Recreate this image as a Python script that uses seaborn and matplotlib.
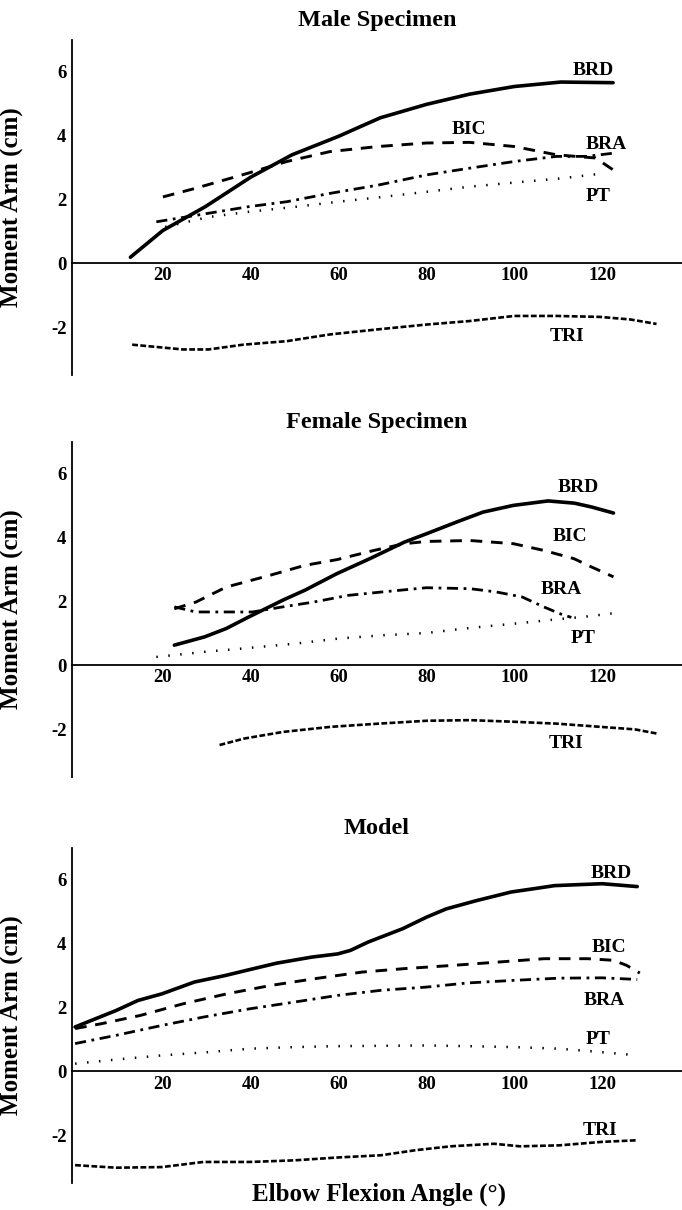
import pandas as pd
import matplotlib.pyplot as plt
import seaborn as sns

sns.set_style("white")
plt.rcParams['font.family'] = ['Liberation Serif', 'DejaVu Serif']
plt.rcParams['axes.unicode_minus'] = False
plt.rcParams['text.color'] = 'black'
plt.rcParams['axes.labelcolor'] = 'black'
plt.rcParams['axes.edgecolor'] = 'black'
plt.rcParams['xtick.color'] = 'black'
plt.rcParams['ytick.color'] = 'black'

# -------------------------
# Data (angle in degrees, moment arm in cm)
# -------------------------
# Male specimen
male_brd_x = [12.6, 20, 29.6, 40, 49.4, 60, 69.5, 80, 89.8, 100, 110.6, 122.5]
male_brd_y = [0.19, 1.03, 1.77, 2.7, 3.4, 3.98, 4.56, 4.98, 5.3, 5.54, 5.68, 5.66]
male_bic_x = [20, 27.4, 39.3, 48.2, 58, 69, 80, 89.8, 100, 109.6, 118.5, 122.5]
male_bic_y = [2.08, 2.35, 2.82, 3.19, 3.5, 3.66, 3.77, 3.79, 3.66, 3.4, 3.3, 2.93]
male_bra_x = [18.5, 27.4, 39.3, 48.2, 58, 69, 80, 89.8, 100, 109.6, 116.5, 122.5]
male_bra_y = [1.3, 1.5, 1.77, 1.93, 2.19, 2.45, 2.77, 2.98, 3.19, 3.35, 3.35, 3.45]
male_pt_x = [20.5, 30.4, 39.3, 50.2, 60, 70, 80, 89.8, 100, 110.6, 120.5]
male_pt_y = [1.14, 1.45, 1.61, 1.77, 1.93, 2.08, 2.24, 2.4, 2.53, 2.66, 2.82]
male_tri_x = [13, 24.5, 30.4, 38.3, 48.2, 58, 69, 80, 89.8, 100, 109.6, 119.5, 126.4, 132.4]
male_tri_y = [-2.55, -2.7, -2.7, -2.55, -2.44, -2.23, -2.07, -1.92, -1.81, -1.65, -1.65, -1.68, -1.76, -1.9]

# Female specimen
female_brd_x = [22.6, 29.5, 34.4, 39.5, 47.3, 52.3, 59.6, 67.1, 75, 80, 86.9, 92.9, 99.8, 107.7, 113.7, 117.6, 122.6]
female_brd_y = [0.63, 0.89, 1.15, 1.51, 2.04, 2.35, 2.87, 3.34, 3.86, 4.12, 4.49, 4.8, 5.01, 5.15, 5.08, 4.96, 4.77]
female_bic_x = [22.6, 27.5, 34.4, 44.4, 52.3, 59.6, 68.1, 75, 80, 89.9, 99.8, 106.7, 113.6, 117.6, 122.6]
female_bic_y = [1.77, 1.98, 2.45, 2.82, 3.13, 3.31, 3.6, 3.81, 3.88, 3.91, 3.81, 3.6, 3.34, 3.08, 2.77]
female_bra_x = [22.6, 27.5, 34.4, 40.4, 47.3, 54.3, 62.2, 70.1, 80, 89.9, 95.8, 101.8, 106.7, 110.7, 113]
female_bra_y = [1.83, 1.67, 1.67, 1.67, 1.83, 1.98, 2.19, 2.3, 2.43, 2.4, 2.3, 2.14, 1.83, 1.6, 1.5]
female_pt_x = [18.5, 29.5, 39.4, 50.3, 60.2, 70.1, 80, 89.9, 99.8, 109.7, 116, 122.7]
female_pt_y = [0.26, 0.42, 0.54, 0.68, 0.84, 0.94, 1.01, 1.17, 1.3, 1.44, 1.52, 1.63]
female_tri_x = [32.9, 38.4, 47.3, 58.2, 69.1, 80, 89.9, 99.8, 109.7, 119.6, 127.5, 132.5]
female_tri_y = [-2.5, -2.3, -2.09, -1.93, -1.83, -1.74, -1.72, -1.77, -1.83, -1.93, -2.01, -2.14]

# Model
model_brd_x = [0, 9.4, 14.3, 19.8, 27.2, 34.1, 39.8, 45.9, 53.9, 59.8, 62.7, 66.7, 74.6, 80, 84.5, 91.4, 99.3, 104.3, 109.2, 120, 128]
model_brd_y = [1.39, 1.91, 2.22, 2.43, 2.8, 3.0, 3.19, 3.39, 3.58, 3.68, 3.79, 4.05, 4.47, 4.83, 5.09, 5.35, 5.62, 5.72, 5.82, 5.88, 5.79]
model_bic_x = [0, 5.9, 14.8, 24.7, 34.6, 44.5, 54.4, 65.3, 75.1, 86, 95.9, 106.8, 116.7, 122.6, 125.6, 128.6]
model_bic_y = [1.34, 1.49, 1.75, 2.12, 2.43, 2.69, 2.9, 3.11, 3.22, 3.32, 3.42, 3.53, 3.53, 3.48, 3.32, 3.08]
model_bra_x = [0, 9.4, 19.8, 29.2, 39.8, 49.9, 59.8, 69.7, 80, 89.4, 99.8, 110.2, 120, 128]
model_bra_y = [0.87, 1.13, 1.44, 1.7, 1.96, 2.17, 2.38, 2.54, 2.64, 2.77, 2.85, 2.92, 2.93, 2.88]
model_pt_x = [0, 9.4, 19.8, 30.1, 39.8, 49.9, 59.8, 69.7, 80, 89.4, 99.8, 110.2, 120, 126.5]
model_pt_y = [0.24, 0.37, 0.5, 0.6, 0.71, 0.76, 0.79, 0.8, 0.81, 0.79, 0.76, 0.71, 0.6, 0.52]
model_tri_x = [0, 9.4, 19.8, 29.2, 39.8, 49.9, 59.8, 69.7, 77.6, 85.5, 95.4, 101.3, 110.2, 120, 128]
model_tri_y = [-2.94, -3.02, -3.0, -2.84, -2.84, -2.79, -2.7, -2.63, -2.47, -2.35, -2.27, -2.35, -2.32, -2.21, -2.16]

muscles = ['BRD', 'BIC', 'BRA', 'PT', 'TRI']

# label positions (x, y) per panel
male_labels = [(118, 6.03), (89.8, 4.19), (121, 3.72), (119, 2.08), (112, -2.28)]
female_labels = [(114.6, 5.56), (112.7, 4.02), (110.7, 2.37), (115.6, 0.84), (111.7, -2.45)]
model_labels = [(122, 6.19), (121.5, 3.87), (120.5, 2.22), (119, 0.99), (119.6, -1.85)]

panels = [
    ("Male Specimen",
     [(male_brd_x, male_brd_y), (male_bic_x, male_bic_y), (male_bra_x, male_bra_y),
      (male_pt_x, male_pt_y), (male_tri_x, male_tri_y)], male_labels),
    ("Female Specimen",
     [(female_brd_x, female_brd_y), (female_bic_x, female_bic_y), (female_bra_x, female_bra_y),
      (female_pt_x, female_pt_y), (female_tri_x, female_tri_y)], female_labels),
    ("Model",
     [(model_brd_x, model_brd_y), (model_bic_x, model_bic_y), (model_bra_x, model_bra_y),
      (model_pt_x, model_pt_y), (model_tri_x, model_tri_y)], model_labels),
]

# line styles: solid, dashed, dash-dot, dotted, dense short dashes
styles = {
    'BRD': dict(lw=2.6, ls='-'),
    'BIC': dict(lw=2.1, ls=(0, (4, 3))),
    'BRA': dict(lw=2.0, ls=(0, (4, 2, 1, 2))),
    'PT': dict(lw=1.8, ls=(0, (0.6, 4.2))),
    'TRI': dict(lw=1.9, ls=(0, (2.2, 0.9))),
}

fig = plt.figure(figsize=(6.82, 12.1), dpi=100)
bottoms = [0.6901, 0.3579, 0.0223]

for (title, series, labels), bottom in zip(panels, bottoms):
    ax = fig.add_axes([0.1056, bottom, 0.8944, 0.2769])
    for name, (xs, ys) in zip(muscles, series):
        df = pd.DataFrame({'angle': xs, 'arm': ys})
        sns.lineplot(data=df, x='angle', y='arm', ax=ax, color='black',
                     estimator=None, sort=False, **styles[name])
    for name, (lx, ly) in zip(muscles, labels):
        ax.text(lx, ly, name, ha='center', va='center', fontsize=14,
                fontweight='bold')

    ax.set_xlim(-0.7, 138.2)
    ax.set_ylim(-3.5, 7)
    ax.spines['top'].set_visible(False)
    ax.spines['right'].set_visible(False)
    ax.spines['bottom'].set_position(('data', 0))
    ax.spines['left'].set_linewidth(1.3)
    ax.spines['bottom'].set_linewidth(1.3)
    ax.set_xticks([20, 40, 60, 80, 100, 120])
    ax.set_yticks([-2, 0, 2, 4, 6])
    ax.tick_params(axis='x', direction='in', length=4, width=1.2, pad=3,
                   labelsize=13.5)
    ax.tick_params(axis='y', direction='in', length=6, width=1.2, pad=4,
                   labelsize=13.5)
    for lab in ax.get_xticklabels() + ax.get_yticklabels():
        lab.set_fontweight('bold')
    ax.set_title(title, fontsize=17.5, fontweight='bold', pad=10)
    ax.set_xlabel('')
    ax.set_ylabel('Moment Arm (cm)', fontsize=18, fontweight='bold')
    ax.yaxis.set_label_coords(-0.078, 0.5)

fig.text(0.556, 0.0074, 'Elbow Flexion Angle (°)', ha='center', va='baseline',
         fontsize=18, fontweight='bold')

plt.savefig('out.png', dpi=100)
